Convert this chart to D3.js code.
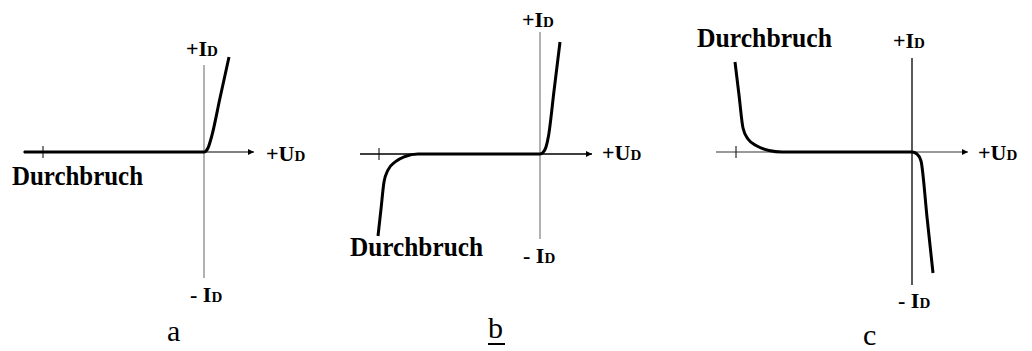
<!DOCTYPE html>
<html>
<head>
<meta charset="utf-8">
<script src="https://cdn.jsdelivr.net/npm/d3@7"></script>
<style>
  body { margin: 0; background: #fff; }
  svg { display: block; }
  text { font-family: "Liberation Serif", "Times New Roman", serif; fill: #000; }
</style>
</head>
<body>
<div class="diodes"></div>
<script>
'use strict'

// Curve points [U, I] for each characteristic (arbitrary units).
const curveA = [[-18, 0], [-1, 0], [0, 0], [0.15, 0.05], [0.4, 0.4], [0.75, 1.5], [1.6, 5.4], [2.5, 9.5]];
const curveB = [[-16.2, -8.2], [-15.9, -5.5], [-15.6, -2.8], [-15.2, -1.6], [-14.5, -0.8], [-13.5, -0.25], [-12.2, 0],
                [-1, 0], [0, 0], [0.3, 0.15], [0.6, 0.7], [0.85, 1.8], [1.4, 6.3], [2, 11.2]];
const curveC = [[-17.7, 9], [-17.3, 5.7], [-16.9, 2.4], [-16.4, 1.3], [-15.5, 0.6], [-14.3, 0.15], [-13, 0],
                [-1, 0], [0, 0], [0.5, -0.2], [0.9, -0.9], [1.5, -6.5], [2.1, -12.1]];

// Axis extents [min, max] and breakdown tick position.
const uDomains = [[-18.1, 5], [-18, 5.2], [-19.6, 5.6]];
const iDomains = [[-12.6, 8.7], [-8.5, 12.2], [-13.3, 9.4]];
const ticksU = [-16.1, -16.1, -17.6];

// Labels.
const panelNames = ['a', 'b', 'c'];
const breakdownLabel = 'Durchbruch';

let width = 1032,
    height = 351;

let svg = d3.select('.diodes')
    .append('svg')
        .attr('width', width)
        .attr('height', height);

svg.append('defs').append('marker')
    .attr('id', 'arrow')
    .attr('viewBox', '0 0 10 10')
    .attr('refX', 10)
    .attr('refY', 5)
    .attr('markerWidth', 9)
    .attr('markerHeight', 6)
    .attr('markerUnits', 'userSpaceOnUse')
    .attr('orient', 'auto')
    .append('path')
        .attr('d', 'M0,0L10,5L0,10z')
        .attr('fill', '#000');

// Pixel layout for each panel.
let panels = [
    {curve: curveA, xr: [23, 254], yr: [278, 65], hColor: '#555', vColor: '#888',
     id: [186, 56], ud: [266, 161], mi: [190, 302], br: [12, 185, 131], name: [167, 341]},
    {curve: curveB, xr: [360, 592], yr: [239, 32], hColor: '#000', vColor: '#888',
     id: [522, 27], ud: [602, 160], mi: [523, 263], br: [350, 256, 133], name: [488, 338], underline: true},
    {curve: curveC, xr: [716, 968], yr: [285, 58], hColor: '#777', vColor: '#000',
     id: [893, 48], ud: [978, 160], mi: [898, 308], br: [697, 47, 135], name: [863, 345]}
];

// Two-part label: big "+I" / "+U" and small "D".
function subLabel(g, pos, main) {
    let t = g.append('text')
        .attr('x', pos[0])
        .attr('y', pos[1])
        .attr('font-weight', 'bold')
        .attr('font-size', 22);
    t.append('tspan').text(main);
    t.append('tspan').attr('font-size', 15).text('D');
}

panels.forEach((p, k) => {
    let x = d3.scaleLinear().domain(uDomains[k]).range(p.xr);
    let y = d3.scaleLinear().domain(iDomains[k]).range(p.yr);
    let g = svg.append('g');

    // Horizontal axis with arrow.
    g.append('line')
        .attr('x1', x(uDomains[k][0]))
        .attr('x2', x(uDomains[k][1]))
        .attr('y1', y(0))
        .attr('y2', y(0))
        .attr('stroke', p.hColor)
        .attr('stroke-width', 1.3)
        .attr('marker-end', 'url(#arrow)');

    // Vertical axis.
    g.append('line')
        .attr('x1', x(0))
        .attr('x2', x(0))
        .attr('y1', y(iDomains[k][1]))
        .attr('y2', y(iDomains[k][0]))
        .attr('stroke', p.vColor)
        .attr('stroke-width', 1.3);

    // Breakdown tick.
    g.append('line')
        .attr('x1', x(ticksU[k]))
        .attr('x2', x(ticksU[k]))
        .attr('y1', y(0) - 6)
        .attr('y2', y(0) + 6)
        .attr('stroke', '#000')
        .attr('stroke-width', 1);

    // Characteristic.
    g.append('path')
        .datum(p.curve)
        .attr('d', d3.line()
            .x(d => x(d[0]))
            .y(d => y(d[1]))
            .curve(d3.curveMonotoneX))
        .attr('fill', 'none')
        .attr('stroke', '#000')
        .attr('stroke-width', 3)
        .attr('stroke-linejoin', 'round');

    subLabel(g, p.id, '+I');
    subLabel(g, p.ud, '+U');
    subLabel(g, p.mi, '- I');

    g.append('text')
        .attr('x', p.br[0])
        .attr('y', p.br[1])
        .attr('font-weight', 'bold')
        .attr('font-size', 27)
        .attr('textLength', p.br[2])
        .attr('lengthAdjust', 'spacingAndGlyphs')
        .text(breakdownLabel);

    g.append('text')
        .attr('x', p.name[0])
        .attr('y', p.name[1])
        .attr('font-size', 30)
        .text(panelNames[k]);

    if (p.underline) {
        g.append('line')
            .attr('x1', p.name[0])
            .attr('x2', p.name[0] + 17)
            .attr('y1', p.name[1] + 6)
            .attr('y2', p.name[1] + 6)
            .attr('stroke', '#000')
            .attr('stroke-width', 2);
    }
});
</script>
</body>
</html>
